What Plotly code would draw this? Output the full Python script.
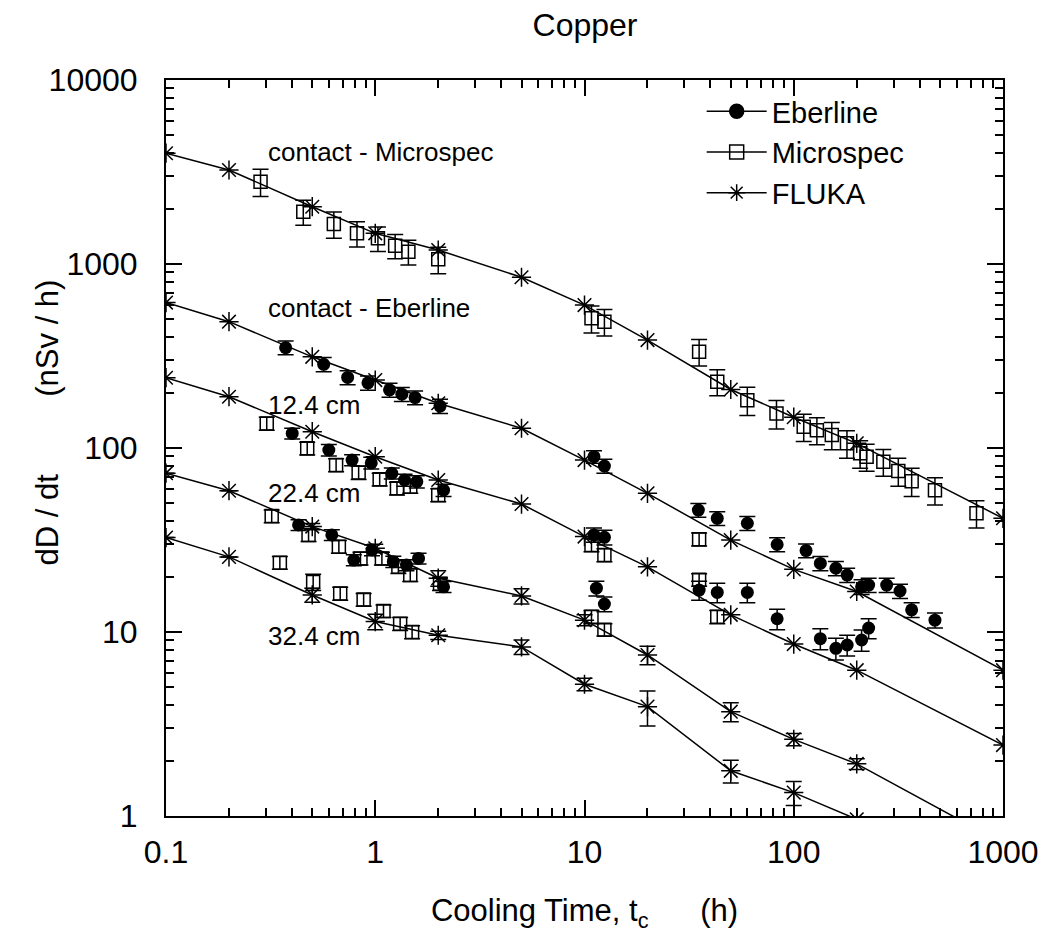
import plotly.graph_objects as go

# ---------------- data ----------------
fluka_t = [0.1, 0.2, 0.5, 1, 2, 5, 10, 20, 50, 100, 200, 1000]
fluka_contact_ms = [4000, 3243, 2048, 1468, 1191, 847, 598, 386, 208, 147, 106, 41.5]
fluka_contact_eb = [617, 486, 313, 234, 175, 128, 86, 56.7, 31.6, 21.9, 16.6, 6.2]
fluka_124 = [241, 190, 122.6, 89.7, 67, 49.6, 33, 22.6, 12.4, 8.6, 6.2, 2.43]
fluka_224 = [73, 58.6, 37.4, 28.5, 19.6, 15.7, 11.6, 7.5, 3.69, 2.61, 1.92, 0.71]
fluka_224_err = [0, 0, 1.5, 1.5, 1.9, 1.5, 0.8, 0.87, 0.44, 0.2, 0.13, 0]
fluka_324 = [32.6, 25.6, 15.9, 11.4, 9.6, 8.3, 5.2, 3.93, 1.76, 1.34, 0.96, 0.35]
fluka_324_err = [0, 0, 1.4, 1.1, 0.5, 0.75, 0.4, 0.85, 0.25, 0.2, 0, 0]

ms_contact_t = [0.283, 0.453, 0.634, 0.818, 1.03, 1.245, 1.44, 2.0, 10.8, 12.45,
                35.3, 43.1, 60, 82.7, 111.6, 129, 152, 179.6, 207.6, 223, 268, 316, 366, 473, 747]
ms_contact_v = [2800, 1923, 1649, 1468, 1380, 1258, 1167, 1060, 507, 486,
                334, 229, 182, 154, 130.6, 125, 117.7, 106, 93.6, 89.7, 84.2, 75, 66, 59, 44.2]
ms_contact_e = [470, 300, 270, 230, 210, 190, 180, 175, 85, 80,
                55, 37, 32, 27, 22, 21, 20, 18, 16, 15, 14, 13, 11.5, 10, 7.4]

eb_contact_t = [0.373, 0.567, 0.738, 0.923, 1.17, 1.34, 1.55, 2.04, 11.1, 12.45,
                35, 43.1, 60, 83.3, 114.5, 134, 159, 180, 211, 228, 278, 322, 366, 473]
eb_contact_v = [351, 285, 242, 226, 207, 196, 188, 169, 89.7, 79.8,
                46, 41.5, 39, 29.9, 27.7, 23.6, 22.2, 20.4, 17.6, 18, 18, 16.7, 13.2, 11.6]
eb_contact_e = [30, 25, 21, 20, 18, 17, 16, 15, 7, 7,
                4, 3.6, 3.4, 2.6, 2.4, 2.1, 2.0, 1.8, 1.6, 1.6, 1.6, 1.5, 1.2, 1.1]

ms_124_t = [0.303, 0.473, 0.65, 0.833, 1.05, 1.27, 1.47, 2.0, 10.8, 12.45, 35.3, 35.3]
ms_124_v = [136, 99.6, 80.9, 73.5, 67.6, 60.4, 61.6, 55.6, 29.7, 26.2, 31.9, 19.2]
ms_124_e = [11, 8, 6.5, 6, 5.4, 4.8, 4.9, 4.5, 2.4, 2.1, 2.6, 1.5]

eb_124_t = [0.401, 0.6, 0.775, 0.957, 1.2, 1.38, 1.58, 2.12, 11.1, 12.45,
            35.3, 43.1, 60, 83.3, 134, 159, 180, 211, 228]
eb_124_v = [120, 97.5, 86, 83, 72.8, 67, 65.6, 59, 33.7, 32.7,
            16.9, 16.4, 16.4, 11.8, 9.2, 8.15, 8.5, 9.05, 10.5]
eb_124_e = [8, 7, 6, 6, 5, 5, 5, 4.5, 3, 3,
            2, 2, 2, 1.5, 1.2, 1.1, 1.1, 1.2, 1.3]

ms_224_t = [0.32, 0.48, 0.67, 0.85, 1.076, 1.29, 1.47, 2.04, 10.8, 12.45, 43.1]
ms_224_v = [42.7, 33.7, 29.1, 25.1, 25.1, 22.6, 20.4, 18.3, 12.1, 10.3, 12.1]
ms_224_e = [3.4, 2.7, 2.3, 2.0, 2.0, 1.8, 1.6, 1.5, 1.0, 0.8, 1.0]

eb_224_t = [0.43, 0.62, 0.79, 0.965, 1.22, 1.41, 1.61, 2.12, 11.4, 12.45]
eb_224_v = [38.2, 33.7, 24.6, 27.9, 24.1, 23.1, 25.1, 17.6, 17.3, 14.2]
eb_224_e = [2.6, 2.3, 1.7, 1.9, 1.7, 1.6, 1.7, 1.2, 1.6, 1.3]

ms_324_t = [0.35, 0.505, 0.68, 0.88, 1.095, 1.315, 1.5]
ms_324_v = [23.8, 18.7, 16.2, 15, 13, 11.1, 10]
ms_324_e = [1.9, 1.9, 1.3, 1.2, 1.0, 0.9, 0.8]

x_tick_vals = [0.1, 1, 10, 100, 1000]
x_tick_text = ["0.1", "1", "10", "100", "1000"]
y_tick_vals = [1, 10, 100, 1000, 10000]
y_tick_text = ["1", "10", "100", "1000", "10000"]

curve_labels = ["contact - Microspec", "contact - Eberline", "12.4 cm", "22.4 cm", "32.4 cm"]
legend_names = ["Eberline", "Microspec", "FLUKA"]

# ---------------- styles ----------------
FONT = "Liberation Sans, Arial, Helvetica, sans-serif"
BLACK = "black"
LW = 1.5
NB = "\u00a0"

fig = go.Figure()


def err(arr, w=8):
    return dict(type="data", array=arr, symmetric=True, color=BLACK,
                thickness=LW, width=w, visible=True)


def fluka(y, e=None):
    fig.add_trace(go.Scatter(
        x=fluka_t, y=y, mode="lines+markers", showlegend=False,
        line=dict(color=BLACK, width=LW),
        marker=dict(symbol="asterisk-open", size=16, color=BLACK,
                    line=dict(color=BLACK, width=LW)),
        error_y=err(e) if e is not None else None,
    ))


def micro(t, v, e):
    fig.add_trace(go.Scatter(
        x=t, y=v, mode="markers", showlegend=False,
        marker=dict(symbol="square-open", size=13, color=BLACK,
                    line=dict(color=BLACK, width=LW)),
        error_y=err(e),
    ))


def eber(t, v, e):
    fig.add_trace(go.Scatter(
        x=t, y=v, mode="markers", showlegend=False,
        marker=dict(symbol="circle", size=13, color=BLACK,
                    line=dict(color=BLACK, width=0)),
        error_y=err(e),
    ))


fluka(fluka_contact_ms)
fluka(fluka_contact_eb)
fluka(fluka_124)
fluka(fluka_224, fluka_224_err)
fluka(fluka_324, fluka_324_err)

micro(ms_contact_t, ms_contact_v, ms_contact_e)
eber(eb_contact_t, eb_contact_v, eb_contact_e)
micro(ms_124_t, ms_124_v, ms_124_e)
eber(eb_124_t, eb_124_v, eb_124_e)
micro(ms_224_t, ms_224_v, ms_224_e)
eber(eb_224_t, eb_224_v, eb_224_e)
micro(ms_324_t, ms_324_v, ms_324_e)

# legend-only entries (line + symbol samples, like the gnuplot key)
legend_symbols = ["circle", "square-open", "asterisk-open"]
for name, sym in zip(legend_names, legend_symbols):
    fig.add_trace(go.Scatter(
        x=[None], y=[None], mode="lines+markers", name=name,
        line=dict(color=BLACK, width=LW),
        marker=dict(symbol=sym, size=14, color=BLACK,
                    line=dict(color=BLACK, width=LW)),
    ))

# ---------------- layout ----------------
W, H = 1051, 936
ML, MT, PW, PH = 166, 80, 839, 736

x_minor = [m * 10 ** e for e in range(-1, 3) for m in range(2, 10)]
y_minor = [m * 10 ** e for e in range(0, 4) for m in range(2, 10)]

axis_common = dict(
    showline=True, linecolor=BLACK, linewidth=2, mirror="ticks",
    ticks="inside", ticklen=16, tickwidth=2, tickcolor=BLACK,
    showgrid=False, zeroline=False,
    tickfont=dict(family=FONT, size=32, color=BLACK),
)

fig.update_layout(
    width=W, height=H,
    margin=dict(l=ML, r=W - ML - PW, t=MT, b=H - MT - PH),
    paper_bgcolor="white", plot_bgcolor="white",
    font=dict(family=FONT, color=BLACK),
    title=dict(text="Copper", x=585 / W, xanchor="center", xref="container",
               y=1 - 25 / H, yanchor="middle",
               font=dict(family=FONT, size=32, color=BLACK)),
    xaxis=dict(
        type="log", range=[-1, 3],
        tickmode="array", tickvals=x_tick_vals, ticktext=x_tick_text,
        minor=dict(tickmode="array", tickvals=x_minor, ticks="inside",
                   ticklen=8, tickwidth=2, tickcolor=BLACK, showgrid=False),
        ticklabelstandoff=7,
        title=dict(text="Cooling Time, t<sub>c</sub>" + NB * 6 + "(h)",
                   font=dict(family=FONT, size=31, color=BLACK), standoff=30),
        **axis_common,
    ),
    yaxis=dict(
        type="log", range=[0, 4],
        tickmode="array", tickvals=y_tick_vals, ticktext=y_tick_text,
        minor=dict(tickmode="array", tickvals=y_minor, ticks="inside",
                   ticklen=8, tickwidth=2, tickcolor=BLACK, showgrid=False),
        ticklabelstandoff=20,
        **axis_common,
    ),
    legend=dict(
        x=0.64, y=0.992, xanchor="left", yanchor="top",
        bgcolor="rgba(0,0,0,0)", borderwidth=0,
        font=dict(family=FONT, size=29, color=BLACK),
        itemwidth=60, tracegroupgap=0,
    ),
)

# curve labels
label_y = [0.902, 0.690, 0.5584, 0.4395, 0.2452]
for txt, yy in zip(curve_labels, label_y):
    fig.add_annotation(text=txt, xref="paper", yref="paper", x=0.119, y=yy,
                       xanchor="left", yanchor="middle", showarrow=False,
                       font=dict(family=FONT, size=26, color=BLACK))

# y-axis title
fig.add_annotation(text="dD / dt" + NB * 9 + "(nSv / h)",
                   xref="paper", yref="paper", x=-0.1418, y=0.535,
                   xanchor="center", yanchor="middle", textangle=-90,
                   showarrow=False, font=dict(family=FONT, size=31, color=BLACK))

# remove the default page margin so the figure sits at the window origin
fig.write_html(
    "out.html",
    config={"displayModeBar": False},
    post_script=(
        "document.body.style.margin='0';"
        "document.body.style.overflow='hidden';"
        "document.documentElement.style.overflow='hidden';"
    ),
)
